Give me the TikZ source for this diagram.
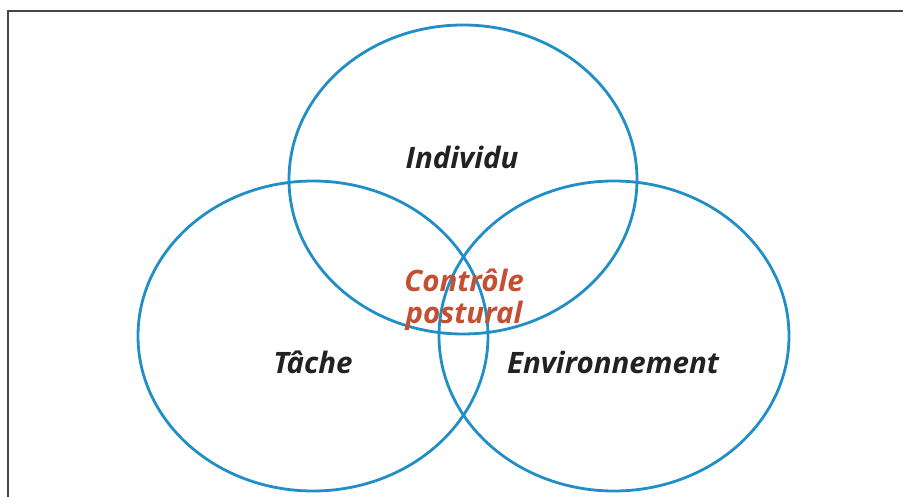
\documentclass[tikz,border=0pt]{standalone}
\usepackage{fontspec}
\setmainfont{Open Sans}
\definecolor{ringblue}{RGB}{34,142,198}
\definecolor{ctrlred}{RGB}{196,80,52}
\definecolor{txtdark}{RGB}{34,34,34}
\definecolor{framegray}{RGB}{70,70,70}
\begin{document}
\begin{tikzpicture}[x=1pt,y=-1pt,
  ring/.style={draw=ringblue,line width=2.8pt},
  lbl/.style={font=\fontsize{29.5}{32}\selectfont\bfseries\itshape,text=txtdark,inner sep=0pt},
  ctrl/.style={font=\fontsize{29.5}{32}\selectfont\bfseries\itshape,text=ctrlred,align=center,inner sep=0pt}]
\useasboundingbox (0,0) rectangle (903,497);
\fill[white] (0,0) rectangle (903,497);
\draw[framegray,line width=1.2pt] (8,497) -- (8,11) -- (903,11);
\draw[ring] (463,179.5) ellipse [x radius=174,y radius=154.5];
\draw[ring] (313,336) ellipse [x radius=175,y radius=155];
\draw[ring] (614,336) ellipse [x radius=175,y radius=155];
\node[lbl] (ind) at (462,157) {Individu};
\node[lbl] (tac) at (313,362) {Tâche};
\node[lbl] (env) at (613,362) {Environnement};
\node[ctrl] (ctl) at (464,300) {Contrôle\\postural};
\end{tikzpicture}
\end{document}
